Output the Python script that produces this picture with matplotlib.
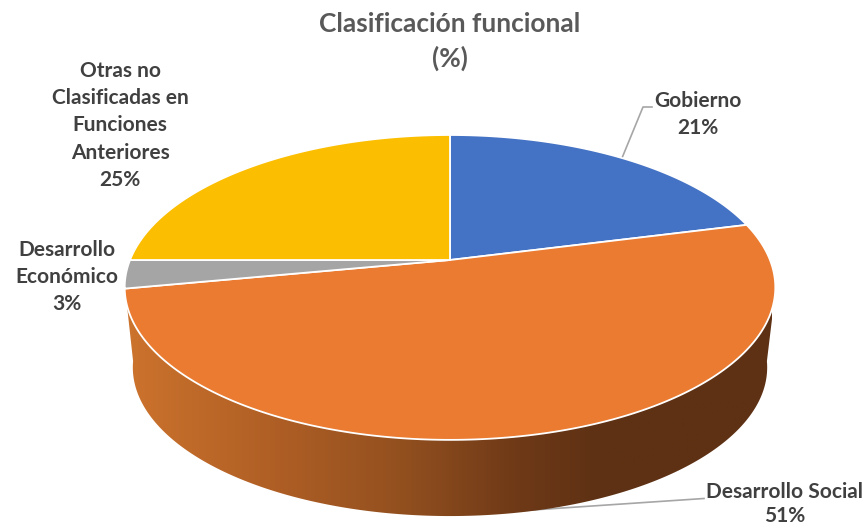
import numpy as np
import matplotlib
matplotlib.use("Agg")
import matplotlib.pyplot as plt
from matplotlib.colors import LinearSegmentedColormap
from matplotlib.patches import Polygon

categories = ["Gobierno", "Desarrollo Social", "Desarrollo\nEconómico", "Otras no\nClasificadas en\nFunciones\nAnteriores"]
values = [21, 51, 3, 25]
colors = ["#4472C4", "#EA7B31", "#A5A5A5", "#FBBE00"]
title_lines = ["Clasificación funcional", "(%)"]
label_x = [698, 785, 67, 120]
label_y = [107, 498, 256, 77]  # baseline of each label's first line

plt.rcParams["font.family"] = ["Lato", "DejaVu Sans"]

# pie geometry in image pixels
cx, cy = 450, 260
rim_k, rim_c = 320, 0.18
rim_a = -100.7
mid_y = 287
wall_scale, wall_drop = 0.975, 80


def rim(theta):
    # perspective view of the pie top, theta clockwise from 12 o'clock
    u, v = np.sin(theta), np.cos(theta)
    d = 1 + rim_c * v
    return cx + rim_k * u / d, (rim_a * v + cy) / d


def lower(theta):
    x, y = rim(theta)
    return cx + wall_scale * (x - cx), mid_y + wall_scale * (y - mid_y) + wall_drop


fig = plt.figure(figsize=(8.66, 5.27), dpi=100)
ax = fig.add_axes([0, 0, 1, 1])

# leader lines
ax.plot([622, 643, 652], [158, 107, 107], color="#A6A6A6", lw=1.2, zorder=1)
ax.plot([525, 704], [510.5, 498.5], color="#A6A6A6", lw=1.2, zorder=1)

# side wall with left to right shading
t_top = np.radians(np.linspace(104, 253, 200))
t_low = np.radians(np.linspace(262, 98, 200))
tx, ty = rim(t_top)
lx, ly = lower(t_low)
wall = Polygon(np.column_stack([np.r_[tx, lx], np.r_[ty, ly]]), closed=True, fc="none", ec="none", zorder=2)
ax.add_patch(wall)
shade = LinearSegmentedColormap.from_list(
    "wall", [(0, "#CC732D"), (0.223, "#B05F25"), (0.424, "#93501F"), (0.61, "#6E3917"), (0.734, "#5E3114"), (1, "#5E3114")])
grad = ax.imshow(np.linspace(0, 1, 256)[None, :], cmap=shade, extent=[126, 772, 527, 280], aspect="auto", zorder=2)
grad.set_clip_path(wall)

# top slices
edges = np.cumsum([0] + values) / sum(values) * 2 * np.pi
for i in range(len(values)):
    t = np.linspace(edges[i], edges[i + 1], 200)
    x, y = rim(t)
    ax.fill(np.r_[cx, x], np.r_[cy, y], fc=colors[i], ec="white", lw=1.3, joinstyle="round", zorder=3)

# labels line by line, the last one stays inside the picture
for i, name in enumerate(categories):
    pct = round(values[i] / sum(values) * 100)
    for j, line in enumerate(f"{name}\n{pct}%".split("\n")):
        ax.text(label_x[i], min(label_y[i] + 27.2 * j, 522.5), line, ha="center", va="baseline", fontsize=15,
                fontweight="bold", color="#404040", zorder=4)

for j, line in enumerate(title_lines):
    ax.text(450, 32 + 35 * j, line, ha="center", va="baseline", fontsize=18.9, fontweight="bold", color="#595959")

ax.set_xlim(0, 866)
ax.set_ylim(527, 0)
ax.axis("off")
fig.savefig("out.png", dpi=100, facecolor="white")
